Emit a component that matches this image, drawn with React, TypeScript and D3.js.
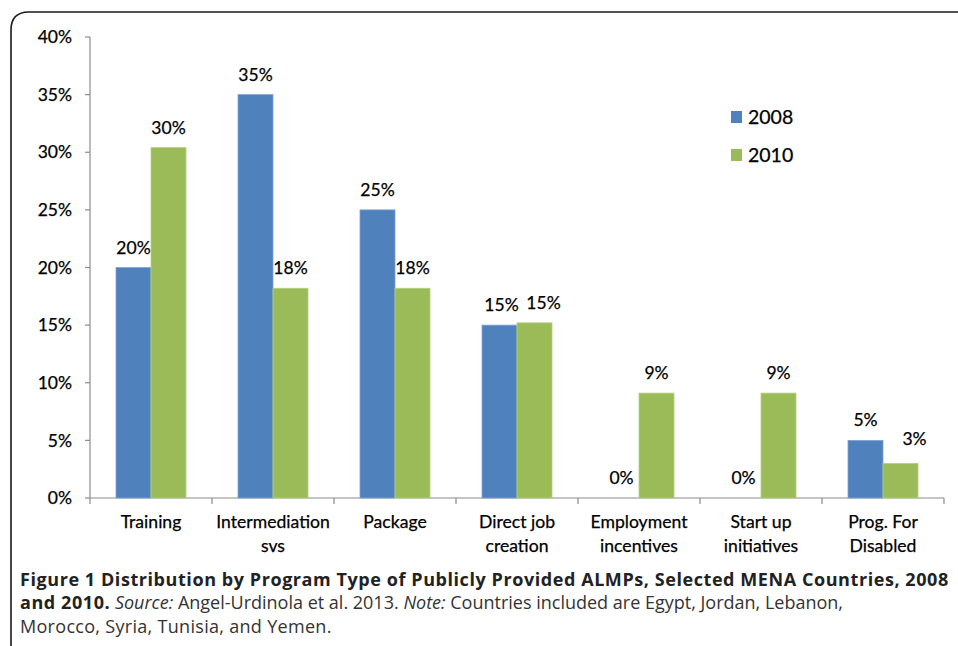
import React from "react";
import * as d3 from "d3";

const categories: string[][] = [
  ["Training"],
  ["Intermediation", "svs"],
  ["Package"],
  ["Direct job", "creation"],
  ["Employment", "incentives"],
  ["Start up", "initiatives"],
  ["Prog. For", "Disabled"],
];
const seriesNames = ["2008", "2010"];
const values2008 = [0.2, 0.35, 0.25, 0.15, 0, 0, 0.05];
const values2010 = [0.304, 0.182, 0.182, 0.152, 0.091, 0.091, 0.03];
const labels2008 = ["20%", "35%", "25%", "15%", "0%", "0%", "5%"];
const labels2010 = ["30%", "18%", "18%", "15%", "9%", "9%", "3%"];
const yTicks = [0, 0.05, 0.1, 0.15, 0.2, 0.25, 0.3, 0.35, 0.4];
const colors = ["#4F81BD", "#9BBB59"];

const W = 958;
const H = 646;
const chartFont = "Lato, 'Open Sans', sans-serif";
const capFont = "'Open Sans', sans-serif";

export default function App() {
  const x = d3.scaleBand<number>().domain(d3.range(categories.length)).range([90, 944]).padding(0);
  const y = d3.scaleLinear().domain([0, 0.4]).range([498, 37]);
  const inner = d3.scaleBand<string>().domain(seriesNames).range([-35, 35]).padding(0);
  const series = [values2008, values2010];
  const labels = [labels2008, labels2010];
  const labelDx = (s: number, i: number) => {
    if (s === 1 && i === 6) return 14;
    if (s === 1 && i === 3) return 9;
    if (s === 0 && i === 3) return 2;
    return 0;
  };
  const labelDy = (s: number, i: number) => (s === 1 && i === 6 ? -4 : 0);

  return (
    <svg width={W} height={H} style={{ position: "absolute", left: 0, top: 0, background: "#fff" }}>
      <rect x={0} y={0} width={W} height={H} fill="#fff" />
      <path d={`M11,${H + 5} L11,30 Q11,12 29,12 L${W + 5},12`} fill="none" stroke="#1a1a1a" strokeWidth={1.6} />
      {/* axes */}
      <line x1={90} x2={90} y1={y(0.4)} y2={y(0)} stroke="#8c8c8c" strokeWidth={1.2} />
      <line x1={90} x2={944} y1={y(0)} y2={y(0)} stroke="#8c8c8c" strokeWidth={1.2} />
      {yTicks.map((t) => (
        <g key={t}>
          <line x1={85} x2={90} y1={y(t)} y2={y(t)} stroke="#8c8c8c" strokeWidth={1.2} />
          <text x={72} y={y(t)} dy="0.35em" textAnchor="end" fontFamily={chartFont} fontSize={17.5} fill="#000" stroke="#000" strokeWidth={0.25}>
            {d3.format(".0%")(t)}
          </text>
        </g>
      ))}
      {d3.range(categories.length + 1).map((i) => {
        const xx = i < categories.length ? x(i)! : 944;
        return <line key={i} x1={xx} x2={xx} y1={y(0)} y2={y(0) + 6} stroke="#8c8c8c" strokeWidth={1.2} />;
      })}
      {/* bars */}
      {series.map((vals, s) =>
        vals.map((v, i) => {
          const cx = x(i)! + x.bandwidth() / 2;
          const bx = cx + inner(seriesNames[s])!;
          return (
            <g key={`${s}-${i}`}>
              {v > 0 && (
                <rect x={bx} y={y(v)} width={inner.bandwidth()} height={y(0) - y(v)} fill={colors[s]} stroke={s === 0 ? "#7fa3d2" : "#b5cf84"} strokeWidth={0.8} />
              )}
              <text x={bx + inner.bandwidth() / 2 + labelDx(s, i)} y={y(v) - 14 + labelDy(s, i)} textAnchor="middle" fontFamily={chartFont} fontSize={17.5} fill="#000" stroke="#000" strokeWidth={0.25}>
                {labels[s][i]}
              </text>
            </g>
          );
        })
      )}
      {/* category labels */}
      {categories.map((lines, i) => (
        <text key={i} x={x(i)! + x.bandwidth() / 2} y={528} textAnchor="middle" fontFamily={chartFont} fontSize={17.6} fill="#000" stroke="#000" strokeWidth={0.25}>
          {lines.map((l, k) => (
            <tspan key={k} x={x(i)! + x.bandwidth() / 2} dy={k === 0 ? 0 : 24}>
              {l}
            </tspan>
          ))}
        </text>
      ))}
      {/* legend */}
      {seriesNames.map((n, s) => (
        <g key={n} transform={`translate(731,${111 + s * 38})`}>
          <rect x={0} y={0} width={11} height={12} fill={colors[s]} />
          <text x={17} y={6} dy="0.36em" fontFamily={chartFont} fontSize={19.5} fill="#000" stroke="#000" strokeWidth={0.25}>
            {n}
          </text>
        </g>
      ))}
      {/* caption */}
      <text x={20} y={586} fontFamily={capFont} fontSize={18} fontWeight="bold" fill="#222" letterSpacing={0.57}>
        Figure 1 Distribution by Program Type of Publicly Provided ALMPs, Selected MENA Countries, 2008
      </text>
      <text x={20} y={609} fontFamily={capFont} fontSize={18} fill="#333">
        <tspan fontWeight="bold" fill="#222" letterSpacing={0.57}>and 2010.</tspan>
        <tspan fontStyle="italic"> Source:</tspan>
        <tspan> Angel-Urdinola et al. 2013. </tspan>
        <tspan fontStyle="italic">Note:</tspan>
        <tspan> Countries included are Egypt, Jordan, Lebanon,</tspan>
      </text>
      <text x={20} y={633} fontFamily={capFont} fontSize={18} fill="#333" letterSpacing={0.3}>
        Morocco, Syria, Tunisia, and Yemen.
      </text>
    </svg>
  );
}
